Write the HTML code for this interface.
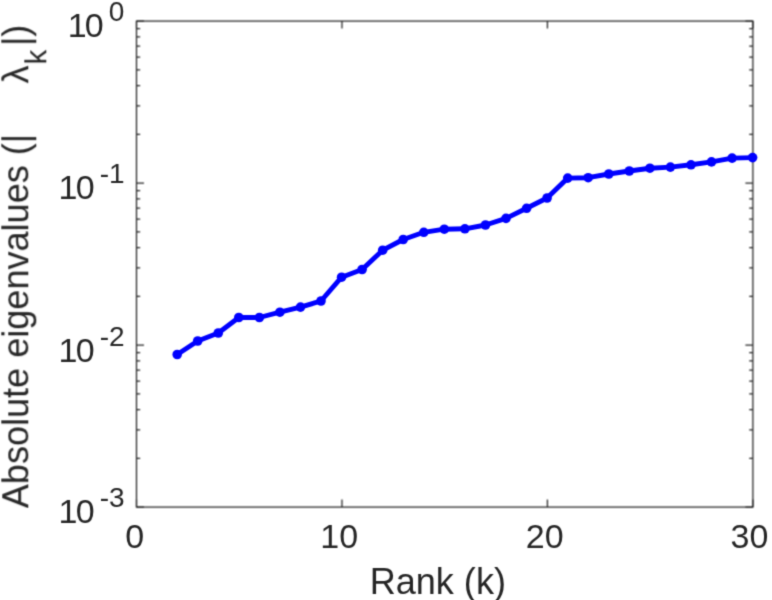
<!DOCTYPE html>
<html><head><meta charset="utf-8"><title>Eigenvalue plot</title>
<style>
html,body{margin:0;padding:0;background:#fff;}
body{width:772px;height:600px;overflow:hidden;}
svg{display:block;}
text{font-family:"Liberation Sans",Arial,Helvetica,sans-serif;fill:#262626;}
.tk{font-size:34px;}
.yt{font-size:34px;letter-spacing:-1.8px;}
.ex{font-size:28px;}
.lb{font-size:36.1px;}
</style></head><body>
<svg width="772" height="600" viewBox="0 0 772 600">
<defs>
<filter id="bl" x="-2%" y="-2%" width="104%" height="104%" color-interpolation-filters="sRGB"><feConvolveMatrix order="3" kernelMatrix="0.0256 0.1088 0.0256 0.1088 0.4624 0.1088 0.0256 0.1088 0.0256" divisor="1" edgeMode="none" preserveAlpha="false"/></filter>
<filter id="bl2" x="-2%" y="-2%" width="104%" height="104%" color-interpolation-filters="sRGB"><feConvolveMatrix order="3" kernelMatrix="0.0625 0.125 0.0625 0.125 0.25 0.125 0.0625 0.125 0.0625" divisor="1" edgeMode="none" preserveAlpha="false"/></filter>
</defs>
<rect width="772" height="600" fill="#fff"/>
<g filter="url(#bl2)" stroke="#262626" stroke-width="1.25" fill="none" stroke-linecap="butt">
<rect x="136.5" y="21.1" width="616.40" height="486.00"/>
<path d="M136.50 507.1v-7.5M136.50 21.1v7.5M341.97 507.1v-7.5M341.97 21.1v7.5M547.43 507.1v-7.5M547.43 21.1v7.5M752.90 507.1v-7.5M752.90 21.1v7.5M136.5 21.10h7.5M752.9 21.10h-7.5M136.5 134.33h3.7M752.9 134.33h-3.7M136.5 105.81h3.7M752.9 105.81h-3.7M136.5 85.57h3.7M752.9 85.57h-3.7M136.5 69.87h3.7M752.9 69.87h-3.7M136.5 57.04h3.7M752.9 57.04h-3.7M136.5 46.19h3.7M752.9 46.19h-3.7M136.5 36.80h3.7M752.9 36.80h-3.7M136.5 28.51h3.7M752.9 28.51h-3.7M136.5 183.10h7.5M752.9 183.10h-7.5M136.5 296.33h3.7M752.9 296.33h-3.7M136.5 267.81h3.7M752.9 267.81h-3.7M136.5 247.57h3.7M752.9 247.57h-3.7M136.5 231.87h3.7M752.9 231.87h-3.7M136.5 219.04h3.7M752.9 219.04h-3.7M136.5 208.19h3.7M752.9 208.19h-3.7M136.5 198.80h3.7M752.9 198.80h-3.7M136.5 190.51h3.7M752.9 190.51h-3.7M136.5 345.10h7.5M752.9 345.10h-7.5M136.5 458.33h3.7M752.9 458.33h-3.7M136.5 429.81h3.7M752.9 429.81h-3.7M136.5 409.57h3.7M752.9 409.57h-3.7M136.5 393.87h3.7M752.9 393.87h-3.7M136.5 381.04h3.7M752.9 381.04h-3.7M136.5 370.19h3.7M752.9 370.19h-3.7M136.5 360.80h3.7M752.9 360.80h-3.7M136.5 352.51h3.7M752.9 352.51h-3.7M136.5 507.10h7.5M752.9 507.10h-7.5"/>
</g>
<g filter="url(#bl)">
<polyline points="177.2,354.5 197.7,341.0 218.3,333.0 238.8,317.5 259.4,317.5 279.9,312.2 300.5,307.1 321.0,301.0 341.6,277.2 362.1,269.5 382.7,250.2 403.2,239.5 423.8,232.3 444.3,229.2 464.9,228.8 485.5,225.0 506.0,218.4 526.6,208.3 547.1,198.0 567.7,178.1 588.2,177.7 608.8,174.0 629.3,171.0 649.9,168.2 670.4,167.1 691.0,164.8 711.5,161.9 732.1,158.1 752.6,157.6" fill="none" stroke="#0000ff" stroke-width="4.9" stroke-linejoin="round" stroke-linecap="round"/>
<g fill="#0000ff"><circle cx="177.2" cy="354.5" r="4.8"/><circle cx="197.7" cy="341.0" r="4.8"/><circle cx="218.3" cy="333.0" r="4.8"/><circle cx="238.8" cy="317.5" r="4.8"/><circle cx="259.4" cy="317.5" r="4.8"/><circle cx="279.9" cy="312.2" r="4.8"/><circle cx="300.5" cy="307.1" r="4.8"/><circle cx="321.0" cy="301.0" r="4.8"/><circle cx="341.6" cy="277.2" r="4.8"/><circle cx="362.1" cy="269.5" r="4.8"/><circle cx="382.7" cy="250.2" r="4.8"/><circle cx="403.2" cy="239.5" r="4.8"/><circle cx="423.8" cy="232.3" r="4.8"/><circle cx="444.3" cy="229.2" r="4.8"/><circle cx="464.9" cy="228.8" r="4.8"/><circle cx="485.5" cy="225.0" r="4.8"/><circle cx="506.0" cy="218.4" r="4.8"/><circle cx="526.6" cy="208.3" r="4.8"/><circle cx="547.1" cy="198.0" r="4.8"/><circle cx="567.7" cy="178.1" r="4.8"/><circle cx="588.2" cy="177.7" r="4.8"/><circle cx="608.8" cy="174.0" r="4.8"/><circle cx="629.3" cy="171.0" r="4.8"/><circle cx="649.9" cy="168.2" r="4.8"/><circle cx="670.4" cy="167.1" r="4.8"/><circle cx="691.0" cy="164.8" r="4.8"/><circle cx="711.5" cy="161.9" r="4.8"/><circle cx="732.1" cy="158.1" r="4.8"/><circle cx="752.6" cy="157.6" r="4.8"/></g>
<text class="tk" x="134.7" y="547.6" text-anchor="middle">0</text>
<text class="tk" x="339.2" y="547.6" text-anchor="middle">10</text>
<text class="tk" x="544.65" y="547.6" text-anchor="middle">20</text>
<text class="tk" x="749.45" y="547.6" text-anchor="middle">30</text>
<text class="yt" x="67.65" y="37.0">10</text><text class="ex" x="108.8" y="20.7">0</text>
<text class="yt" x="58.6" y="198.9">10</text><text class="ex" x="99.7" y="182.6">-1</text>
<text class="yt" x="58.6" y="361.8">10</text><text class="ex" x="99.7" y="345.5">-2</text>
<text class="yt" x="58.6" y="523.2">10</text><text class="ex" x="99.7" y="506.9">-3</text>
<text class="lb" x="437.8" y="593.7" text-anchor="middle">Rank (k)</text>
<g transform="translate(28.3 508.25) rotate(-90)"><text class="lb" x="0" y="0">Absolute eigenvalues (|</text><text class="lb" x="424.65" y="0">λ</text><text class="ex" x="443.8" y="18" style="font-size:29.5px">k</text><text class="lb" x="462.2" y="0">|)</text></g>
</g>
</svg>
</body></html>
